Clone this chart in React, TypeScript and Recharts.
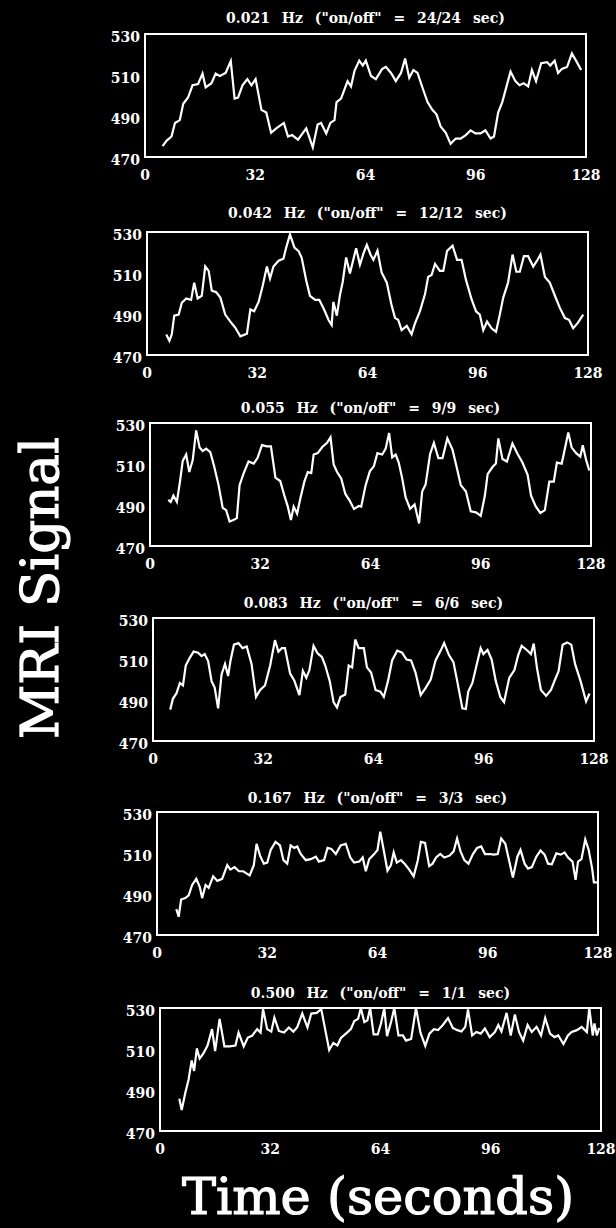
import { LineChart, Line, XAxis, YAxis, ReferenceArea } from "recharts";

// time (s), MRI signal
const HZ_021: [number, number][] = [
  [5.1, 475.3], [6.3, 478], [7.7, 480], [8.7, 486.6], [10.1, 488], [11.1, 496], [12.5, 499], [13.8, 505],
  [15.4, 505.6], [16.7, 510.7], [17.6, 504], [19.3, 506], [20.5, 510.7], [21.7, 509.5], [23.4, 511], [24.9, 516.8],
  [26.0, 498.5], [27.0, 499], [28.3, 505], [29.7, 508], [30.9, 505], [32.1, 508], [33.8, 493], [35.2, 491.7],
  [36.6, 481.8], [38.1, 484], [40.3, 486.6], [41.5, 480], [42.7, 480.7], [44.4, 478.5], [46.8, 484], [48.7, 474.7],
  [50.1, 485.8], [51.1, 486.6], [52.6, 481.5], [53.8, 486.6], [55.0, 488], [55.6, 496.8], [56.9, 498.5], [58.8, 507],
  [59.8, 504.4], [60.8, 512], [62.2, 517], [63.2, 514.6], [64.1, 517], [65.6, 509.5], [67.0, 508], [68.8, 512.9],
  [69.9, 514], [71.4, 511], [72.8, 507], [74.3, 511], [75.5, 518], [76.7, 508.6], [77.9, 512.4], [79.1, 511],
  [80.3, 505], [82.0, 496.8], [83.4, 493], [84.6, 490.8], [85.8, 484.9], [87.3, 481.8], [88.7, 476.4], [90.2, 479],
  [91.6, 479], [93.1, 480.7], [94.5, 483], [95.9, 481.5], [97.4, 481.5], [98.8, 483], [100.3, 479], [101.3, 480],
  [102.5, 491.7], [103.7, 496.8], [104.8, 503.6], [106.1, 511.7], [107.5, 507], [108.7, 505], [109.9, 506], [111.2, 504.4],
  [112.3, 512.4], [113.5, 507], [115.0, 515.8], [116.7, 516.3], [117.6, 514.6], [118.9, 517], [119.9, 511], [121.0, 513],
  [122.5, 513.9], [123.9, 520.5], [125.1, 517], [126.6, 512.4],
];

const HZ_042: [number, number][] = [
  [5.6, 480], [6.5, 477], [7.2, 480.1], [7.9, 489.2], [9.2, 489.7], [10.1, 495.5], [11.4, 497.6], [12.8, 496.9],
  [13.7, 505.3], [14.7, 497.6], [15.9, 498.9], [16.9, 513.2], [17.9, 511], [18.8, 501.4], [20.1, 500.6], [21.3, 498],
  [22.7, 489.7], [24.2, 486.3], [25.6, 483.4], [27.1, 479.1], [29.0, 480.4], [30.0, 492.2], [31.1, 491.3], [32.4, 495.9],
  [33.6, 503.9], [34.8, 513.2], [35.7, 507.3], [36.7, 513.2], [38.2, 516], [39.6, 517], [40.4, 522.4], [41.5, 528.8],
  [42.8, 522.4], [44.0, 520.7], [44.9, 517.4], [46.2, 506.5], [47.3, 498.9], [48.8, 496.9], [50.0, 496.9], [51.4, 492.2],
  [52.7, 487.1], [53.6, 484.6], [54.1, 495.9], [55.1, 489.2], [56.0, 499.2], [56.8, 505.6], [57.8, 517.6], [58.9, 509.8],
  [60.7, 522.1], [61.8, 514], [62.8, 519.4], [63.8, 523.7], [64.9, 518.9], [65.7, 516.4], [66.9, 520.9], [68.1, 510.3],
  [69.6, 505.3], [71.0, 494.2], [72.0, 488], [72.9, 487.2], [73.9, 482.1], [75.4, 484.2], [76.8, 480.1], [77.8, 485.5],
  [79.2, 491.3], [80.7, 499.7], [81.6, 508.1], [82.6, 509], [83.6, 514.4], [85.0, 511], [86.0, 511], [87.1, 520.8],
  [88.7, 523.3], [90.0, 516.4], [91.3, 516.4], [92.6, 506.5], [94.2, 497.2], [95.5, 491.3], [96.6, 489.7], [97.6, 482.1],
  [98.7, 486.3], [100.0, 483], [101.3, 481.3], [102.4, 489.7], [103.4, 498], [104.8, 505.3], [106.1, 519], [107.2, 510.6],
  [108.2, 510.6], [109.4, 518.2], [110.6, 518.2], [112.1, 513.2], [113.2, 516], [114.2, 519], [115.5, 508.1], [116.9, 505.3],
  [118.4, 498.9], [119.8, 493.1], [121.3, 488], [122.5, 487.2], [123.7, 483], [125.1, 485.8], [126.6, 489.7],
];

const HZ_055: [number, number][] = [
  [5.3, 492.5], [6.0, 491.5], [6.8, 494.6], [7.8, 491.5], [8.7, 501.4], [9.5, 511.5], [10.5, 514.6], [11.4, 506.1],
  [12.4, 511.9], [13.4, 526.4], [14.4, 518], [15.3, 516.3], [16.3, 517.5], [17.5, 515.8], [18.6, 509], [19.9, 499.7],
  [21.1, 488.6], [22.1, 487.5], [23.1, 481.9], [24.2, 482.7], [25.2, 483.6], [26.0, 499.7], [27.2, 505.6], [28.6, 511.2],
  [30.1, 510.2], [31.2, 512.9], [32.5, 519.2], [33.9, 518.6], [35.1, 518.6], [36.4, 503.4], [37.8, 501.7], [39.0, 494.6],
  [40.0, 489.2], [40.9, 482.7], [41.7, 489.2], [42.7, 485.8], [43.6, 492.9], [44.8, 501.4], [45.8, 506.1], [46.8, 505.6],
  [47.5, 514.6], [48.7, 515.3], [50.0, 518.3], [51.4, 520.3], [52.4, 523], [53.3, 509.8], [54.3, 506.1], [55.5, 503],
  [56.7, 495.4], [58.0, 492], [59.2, 488.1], [60.6, 489.5], [61.3, 489.2], [62.6, 499.7], [63.8, 506.4], [65.0, 509],
  [66.0, 515.3], [67.4, 514.6], [68.4, 517.5], [69.4, 525.1], [70.3, 513.2], [71.3, 514.6], [72.2, 510.7], [73.2, 503],
  [74.2, 493.7], [75.5, 488.1], [76.8, 490.3], [78.1, 481], [79.0, 496.6], [80.0, 500], [81.3, 514.9], [82.4, 520.3],
  [83.7, 512.9], [84.9, 512.9], [86.3, 522.5], [87.8, 517], [89.0, 508.5], [90.2, 499.7], [91.7, 496.6], [93.1, 486.9],
  [94.6, 486.4], [96.0, 484.7], [97.2, 494.6], [98.0, 505.1], [99.4, 508.5], [100.4, 510.2], [101.1, 522.5], [102.3, 512.4],
  [103.6, 511.2], [105.2, 520], [106.7, 514.9], [108.1, 510.7], [109.6, 504.7], [110.6, 494.6], [112.0, 489.2], [113.3, 486.1],
  [114.6, 487.5], [115.9, 501.4], [117.2, 501.4], [118.1, 510.7], [119.5, 510.2], [120.5, 518], [121.4, 525.4], [122.4, 518],
  [123.7, 515.3], [124.9, 513.6], [125.6, 519.2], [126.6, 511.9], [127.5, 506.8],
];

const HZ_083: [number, number][] = [
  [5.0, 485.3], [5.8, 490.7], [6.8, 493.2], [7.8, 498.3], [8.7, 497.1], [9.5, 506.8], [10.7, 510.7], [11.8, 513.6],
  [13.1, 513.1], [14.1, 511.4], [15.0, 512.4], [16.0, 509], [17.0, 499.2], [17.9, 496.1], [18.9, 485.9], [19.9, 502.5],
  [20.9, 507.6], [21.8, 501.7], [22.5, 509.3], [23.5, 517], [24.8, 517.8], [26.0, 515.3], [27.2, 516.1], [28.6, 507.6],
  [29.9, 491.5], [31.1, 494.9], [32.5, 497.1], [34.0, 506.8], [35.4, 519.2], [36.4, 513.6], [37.4, 515.3], [38.3, 515.3],
  [39.8, 502.9], [41.0, 499.5], [42.5, 492.4], [43.5, 504.2], [44.5, 500.8], [45.4, 504.6], [46.6, 516.4], [47.8, 512.7],
  [49.0, 511], [50.0, 506.8], [51.3, 499.2], [52.4, 489], [53.4, 486.4], [54.4, 491.5], [55.8, 492.7], [56.8, 506.8],
  [57.8, 505.9], [58.7, 519.5], [59.7, 515.3], [61.2, 515.3], [62.1, 505.9], [63.3, 503.4], [64.6, 494.9], [66.0, 494.1],
  [67.0, 491.5], [68.2, 499.2], [69.4, 509.3], [70.9, 514.1], [72.3, 513.1], [73.6, 509.7], [74.9, 509.3], [76.2, 503.4],
  [77.7, 492.4], [79.1, 495.8], [80.6, 500], [82.0, 509.3], [83.5, 514.1], [84.5, 517.8], [85.9, 511.9], [87.2, 508.5],
  [88.3, 499.2], [89.8, 485.9], [90.8, 485.6], [91.5, 494.1], [92.7, 498.3], [94.0, 507.6], [95.1, 515.3], [95.9, 512.4],
  [97.1, 514.4], [98.3, 509.7], [99.5, 499.2], [100.8, 491.5], [101.9, 489], [103.4, 500.8], [104.9, 504.6], [106.0, 511.9],
  [107.0, 516.4], [108.5, 514.4], [109.7, 512.4], [110.5, 517.5], [111.5, 505.1], [112.6, 494.9], [114.1, 492], [115.5, 494.9],
  [116.7, 500], [117.7, 503.9], [118.9, 517], [120.2, 518.1], [121.4, 517], [122.5, 507.6], [124.1, 499.2], [124.8, 494.9],
  [125.7, 489.3], [126.7, 493.2],
];

const HZ_167: [number, number][] = [
  [5.6, 482.6], [6.3, 478.9], [7.0, 487.3], [8.2, 488], [9.2, 489.3], [10.2, 494.4], [11.4, 497.4], [12.4, 493.5],
  [13.1, 488], [14.1, 494.4], [15.0, 493], [16.3, 498.6], [17.5, 496.4], [18.9, 497.4], [20.4, 504.1], [21.3, 501.9],
  [22.5, 503.1], [23.8, 501.1], [25.0, 501.1], [26.9, 499.1], [28.1, 504.1], [28.9, 514.5], [29.9, 508.7], [31.0, 504.8],
  [32.0, 505.3], [33.0, 511.5], [34.4, 515.4], [35.7, 513.7], [36.7, 506.5], [37.8, 504.8], [38.8, 513.7], [39.8, 512.5],
  [40.7, 513.2], [41.7, 509.5], [43.2, 506.5], [44.6, 507], [46.1, 508.2], [47.0, 505.8], [48.5, 506.5], [49.5, 512.5],
  [50.6, 512], [51.9, 509.5], [53.3, 513.7], [54.8, 514.5], [56.1, 507.8], [57.2, 505.3], [58.7, 505.8], [59.7, 507.8],
  [60.6, 501.1], [61.6, 507], [62.9, 509.2], [64.0, 511.5], [64.8, 520.4], [65.8, 511.5], [66.9, 501.4], [67.9, 504.1],
  [68.7, 510.3], [69.6, 505.3], [70.8, 506.5], [72.0, 504.5], [73.2, 501.9], [74.5, 498.6], [75.7, 506.5], [76.6, 515.4],
  [77.8, 514.9], [79.0, 503.6], [80.0, 504.8], [81.0, 507.8], [82.2, 509.5], [83.4, 507.8], [84.9, 508.7], [86.1, 510.8],
  [87.1, 517.1], [88.1, 510.8], [89.2, 506.5], [90.4, 504.8], [91.7, 509.5], [92.9, 512.5], [94.1, 513.2], [95.2, 509.5],
  [96.5, 509.5], [97.8, 509.2], [98.9, 509.5], [99.9, 517.1], [101.1, 514.5], [102.0, 507.8], [103.3, 498.1], [104.6, 508.2],
  [105.5, 511.5], [106.7, 504.8], [107.7, 502.4], [108.8, 503.1], [110.1, 508.2], [111.3, 511.2], [112.5, 509.2], [113.5, 504.8],
  [114.6, 504.5], [115.9, 509.8], [117.2, 509.2], [118.3, 510.3], [119.3, 507.8], [120.6, 505.8], [121.5, 496.9], [122.2, 505.8],
  [123.2, 507], [124.3, 516.6], [125.3, 511.5], [126.3, 502.4], [126.8, 495.7], [127.8, 495.7],
];

const HZ_500: [number, number][] = [
  [5.6, 485.8], [6.3, 480.2], [7.3, 488.3], [8.3, 495.1], [9.2, 504.4], [9.9, 499.3], [10.7, 510.3], [11.5, 505.3],
  [12.6, 507.8], [13.8, 511.7], [15.1, 519.7], [16.0, 509], [17.3, 524.7], [18.7, 511.3], [20.2, 511.3], [21.9, 511.7],
  [22.8, 518], [24.3, 511.3], [25.5, 515.6], [26.7, 516.4], [28.2, 519.7], [29.2, 518], [29.9, 529.5], [31.1, 519.7],
  [32.3, 518.5], [33.2, 525.3], [34.5, 518.8], [36.0, 518], [37.4, 520.5], [38.7, 518.5], [39.8, 520.5], [41.3, 527.3],
  [42.8, 520.5], [43.9, 527.3], [45.5, 527.6], [46.8, 529.5], [47.8, 520.8], [49.1, 509.5], [50.3, 512.9], [51.5, 511.7],
  [52.5, 515.4], [54.2, 517.9], [55.4, 519.7], [56.4, 523.6], [57.5, 524.7], [58.3, 530], [59.3, 523.1], [60.2, 524],
  [61.0, 530], [62.0, 517.1], [63.2, 517.1], [64.1, 522.2], [65.1, 530], [65.9, 516.3], [67.1, 523.4], [68.0, 530],
  [69.2, 516.6], [70.5, 516.6], [71.4, 514.1], [72.9, 514.9], [74.3, 530], [75.6, 518], [77.0, 511.5], [78.2, 517.5],
  [79.5, 519.7], [80.7, 519.2], [82.1, 521.7], [83.6, 525.1], [85.0, 520.3], [86.3, 519.2], [87.5, 518.6], [88.6, 520.8],
  [89.4, 529.3], [90.6, 516.6], [91.8, 518.3], [93.1, 517.5], [94.3, 520], [95.7, 515.8], [97.2, 518.3], [98.2, 521.7],
  [99.1, 518.6], [100.6, 527.6], [101.8, 516.6], [103.0, 526.8], [104.2, 518.3], [105.4, 514.1], [106.7, 521.7], [107.9, 518.3],
  [109.3, 520.8], [110.6, 516.6], [111.8, 525.1], [113.2, 517.5], [114.5, 515.8], [115.6, 516.6], [117.1, 512.4], [118.4, 516.6],
  [119.5, 518.3], [121.0, 519.2], [122.4, 520.8], [123.9, 518.3], [124.6, 530], [125.6, 516.6], [126.1, 522.5], [126.8, 516.6],
  [127.5, 520.3],
];

const TITLES = [
  '0.021 Hz ("on/off" = 24/24 sec)',
  '0.042 Hz ("on/off" = 12/12 sec)',
  '0.055 Hz ("on/off" = 9/9 sec)',
  '0.083 Hz ("on/off" = 6/6 sec)',
  '0.167 Hz ("on/off" = 3/3 sec)',
  '0.500 Hz ("on/off" = 1/1 sec)',
];
const SERIES = [HZ_021, HZ_042, HZ_055, HZ_083, HZ_167, HZ_500];
const X_TICKS = [0, 32, 64, 96, 128];
const Y_TICKS = [470, 490, 510, 530];

// plot-box positions on the page (the scan drifts a little to the right)
const BOXES = [
  { left: 145, top: 34, titleY: 18 },
  { left: 147, top: 232, titleY: 213 },
  { left: 150, top: 423, titleY: 408 },
  { left: 153, top: 618, titleY: 603 },
  { left: 157, top: 812, titleY: 798 },
  { left: 160, top: 1008, titleY: 993 },
];
const PLOT_W = 441;
const PLOT_H = 123;

const tickStyle = { fill: "#fff", fontSize: 14, fontWeight: 700, fontFamily: "DejaVu Serif" };

function Panel({ rows, title, box }: { rows: [number, number][]; title: string; box: (typeof BOXES)[number] }) {
  const data = rows.map(([t, v]) => ({ t, v }));
  return (
    <>
      <div
        style={{
          position: "absolute",
          left: box.left,
          width: PLOT_W,
          top: box.titleY - 9,
          lineHeight: "18px",
          textAlign: "center",
          whiteSpace: "nowrap",
          color: "#fff",
          fontFamily: "DejaVu Serif",
          fontWeight: 700,
          fontSize: 14,
          wordSpacing: 7,
        }}
      >
        {title}
      </div>
      <div style={{ position: "absolute", left: box.left - 50, top: box.top - 10 }}>
        <LineChart
          width={50 + PLOT_W + 22}
          height={10 + PLOT_H + 30}
          data={data}
          margin={{ top: 10, right: 22, bottom: 0, left: 10 }}
        >
          <XAxis
            dataKey="t"
            type="number"
            domain={[0, 128]}
            ticks={X_TICKS}
            interval={0}
            height={30}
            axisLine={false}
            tickLine={false}
            tickSize={3}
            tickMargin={10}
            tick={tickStyle}
          />
          <YAxis
            type="number"
            domain={[470, 530]}
            ticks={Y_TICKS}
            interval={0}
            width={40}
            axisLine={false}
            tickLine={false}
            tickSize={3}
            tickMargin={2}
            tick={{ ...tickStyle, dy: 3 }}
          />
          <ReferenceArea x1={0} x2={128} y1={470} y2={530} fill="#000" fillOpacity={0} stroke="#fff" strokeWidth={2} />
          <Line type="linear" dataKey="v" stroke="#fff" strokeWidth={2.2} dot={false} isAnimationActive={false} />
        </LineChart>
      </div>
    </>
  );
}

export default function App() {
  return (
    <div style={{ position: "absolute", left: 0, top: 0, width: 616, height: 1228, background: "#000", overflow: "hidden" }}>
      {SERIES.map((rows, i) => (
        <Panel key={i} rows={rows} title={TITLES[i]} box={BOXES[i]} />
      ))}
      <svg width={616} height={1228} style={{ position: "absolute", left: 0, top: 0, pointerEvents: "none" }}>
        <text
          transform="translate(58,588) rotate(-90)"
          textAnchor="middle"
          fill="#fff"
          stroke="#fff"
          strokeWidth={1.2}
          fontFamily="DejaVu Serif"
          fontSize={53}
        >
          MRI Signal
        </text>
        <text
          x={378}
          y={1214}
          textAnchor="middle"
          fill="#fff"
          stroke="#fff"
          strokeWidth={1.2}
          fontFamily="DejaVu Serif"
          fontSize={51}
        >
          Time (seconds)
        </text>
      </svg>
    </div>
  );
}
